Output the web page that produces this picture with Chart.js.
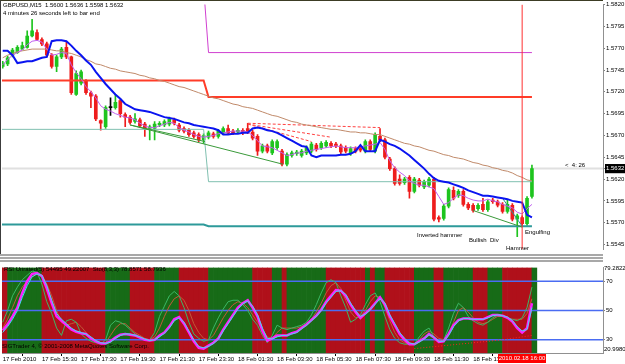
<!DOCTYPE html>
<html>
<head>
<meta charset="utf-8">
<script src="https://cdn.jsdelivr.net/npm/chart.js@4.4.1/dist/chart.umd.min.js"></script>
<style>
  body { margin: 0; width: 625px; height: 364px; overflow: hidden; position: relative; background: #fff;
         font-family: 'Liberation Sans', Arial, sans-serif; }
  canvas { position: absolute; left: 0; }
  #main-chart { top: 0; }
  #rsi-chart  { top: 263px; }
  .txt { position: absolute; font-size: 6px; line-height: 7px; color: #000; white-space: pre; }
  .frame { position: absolute; left: 0; top: 0; width: 602px; height: 253px;
           border-top: 1px solid #3c3c24; border-left: 1px solid #3c3c3c; }
  .split { position: absolute; left: 0; width: 603px; height: 2px; background: #a8a8a8; }
  .timebox { position: absolute; left: 498px; top: 354px; width: 48px; height: 9px; background: #f00;
             color: #fff; font-size: 6px; line-height: 9px; text-align: center; }
</style>
</head>
<body>
<canvas id="main-chart" width="625" height="254"></canvas>
<canvas id="rsi-chart" width="625" height="101"></canvas>
<div class="frame"></div>
<div class="split" style="top:254px"></div>
<div class="split" style="top:257px"></div>
<div class="split" style="top:260px"></div>

<div class="txt" style="left:3px;top:2px">GBPUSD,M15  1.5600 1.5636 1.5598 1.5632</div>
<div class="txt" style="left:3px;top:10px">4 minutes 26 seconds left to bar end</div>
<div class="txt" style="left:565px;top:162px">&lt;  4: 26</div>
<div class="txt" style="left:417px;top:232px">Inverted hammer</div>
<div class="txt" style="left:469px;top:237px">Bullish  Div</div>
<div class="txt" style="left:506px;top:245px">Hammer</div>
<div class="txt" style="left:525px;top:229px">Engulfing</div>
<div class="txt" style="left:4px;top:266px">RSI Unrated(5) 54495 49.22007  Sto(8,3,3) 78.8571 58.7936</div>
<div class="txt" style="left:2px;top:343px">SIGTrader 4, © 2001-2008 MetaQuotes Software Corp.</div>
<div class="txt" style="left:604px;top:265px">79.2822</div>
<div class="txt" style="left:604px;top:346px">20.9980</div>
<div class="timebox">2010.02.18 16:00</div>

<script>
// ---- price data, GBPUSD M15, bar 0 = 17 Feb 13:30 ----
const opens  = [1.5749,1.5752,1.5762,1.5765,1.5769,1.5771,1.5784,1.5788,1.5780,1.5775,
                1.5762,1.5749,1.5760,1.5771,1.5760,1.5717,1.5730,1.5732,1.5719,1.5715,
                1.5687,1.5680,1.5702,1.5702,1.5710,1.5694,1.5691,1.5686,1.5688,1.5683,
                1.5678,1.5678,1.5682,1.5682,1.5683,1.5688,1.5682,1.5678,1.5676,1.5673,
                1.5671,1.5665,1.5668,1.5672,1.5669,1.5673,1.5678,1.5675,1.5674,1.5676,
                1.5678,1.5674,1.5669,1.5652,1.5658,1.5650,1.5656,1.5652,1.5637,1.5647,
                1.5649,1.5647,1.5650,1.5652,1.5659,1.5656,1.5658,1.5661,1.5660,1.5658,
                1.5656,1.5650,1.5655,1.5655,1.5652,1.5663,1.5652,1.5669,1.5665,1.5643,
                1.5632,1.5620,1.5616,1.5622,1.5606,1.5619,1.5611,1.5613,1.5620,1.5576,
                1.5575,1.5589,1.5607,1.5601,1.5606,1.5591,1.5590,1.5586,1.5591,1.5585,
                1.5596,1.5594,1.5591,1.5583,1.5590,1.5574,1.5576,1.5569,1.5600];
const highs  = [1.5755,1.5761,1.5770,1.5773,1.5777,1.5790,1.5803,1.5791,1.5782,1.5777,
                1.5764,1.5762,1.5771,1.5777,1.5761,1.5744,1.5745,1.5734,1.5721,1.5717,
                1.5688,1.5704,1.5713,1.5717,1.5712,1.5696,1.5693,1.5695,1.5690,1.5685,
                1.5682,1.5686,1.5686,1.5688,1.5691,1.5690,1.5684,1.5680,1.5678,1.5675,
                1.5673,1.5672,1.5675,1.5674,1.5677,1.5680,1.5682,1.5677,1.5678,1.5678,
                1.5684,1.5676,1.5671,1.5660,1.5660,1.5665,1.5665,1.5654,1.5650,1.5652,
                1.5653,1.5654,1.5658,1.5662,1.5661,1.5663,1.5664,1.5663,1.5662,1.5660,
                1.5658,1.5657,1.5657,1.5657,1.5665,1.5665,1.5673,1.5678,1.5667,1.5645,
                1.5634,1.5625,1.5622,1.5624,1.5622,1.5621,1.5619,1.5622,1.5622,1.5578,
                1.5591,1.5610,1.5611,1.5608,1.5608,1.5593,1.5592,1.5592,1.5598,1.5596,
                1.5598,1.5596,1.5593,1.5596,1.5592,1.5580,1.5578,1.5600,1.5636];
const lows   = [1.5747,1.5750,1.5760,1.5764,1.5768,1.5770,1.5783,1.5779,1.5773,1.5760,
                1.5747,1.5743,1.5758,1.5758,1.5717,1.5716,1.5728,1.5717,1.5702,1.5687,
                1.5676,1.5678,1.5693,1.5700,1.5691,1.5680,1.5683,1.5684,1.5679,1.5669,
                1.5665,1.5665,1.5680,1.5680,1.5681,1.5682,1.5674,1.5673,1.5669,1.5667,
                1.5663,1.5661,1.5666,1.5667,1.5667,1.5671,1.5671,1.5671,1.5672,1.5671,
                1.5672,1.5665,1.5647,1.5650,1.5650,1.5648,1.5654,1.5635,1.5635,1.5645,
                1.5647,1.5645,1.5648,1.5650,1.5652,1.5654,1.5656,1.5656,1.5656,1.5649,
                1.5650,1.5647,1.5650,1.5651,1.5650,1.5652,1.5650,1.5663,1.5643,1.5630,
                1.5613,1.5613,1.5614,1.5598,1.5604,1.5611,1.5609,1.5611,1.5572,1.5571,
                1.5573,1.5587,1.5596,1.5599,1.5589,1.5585,1.5582,1.5584,1.5583,1.5583,
                1.5592,1.5588,1.5581,1.5581,1.5572,1.5554,1.5567,1.5567,1.5598];
const closes = [1.5753,1.5759,1.5768,1.5771,1.5773,1.5784,1.5790,1.5780,1.5775,1.5762,
                1.5749,1.5760,1.5769,1.5760,1.5719,1.5741,1.5743,1.5719,1.5715,1.5689,
                1.5684,1.5702,1.5702,1.5708,1.5695,1.5691,1.5685,1.5689,1.5681,1.5678,
                1.5680,1.5683,1.5684,1.5686,1.5689,1.5684,1.5676,1.5675,1.5671,1.5669,
                1.5665,1.5670,1.5673,1.5669,1.5675,1.5678,1.5673,1.5673,1.5676,1.5673,
                1.5674,1.5667,1.5652,1.5658,1.5652,1.5663,1.5663,1.5637,1.5648,1.5650,
                1.5651,1.5652,1.5656,1.5660,1.5654,1.5661,1.5662,1.5658,1.5658,1.5651,
                1.5652,1.5655,1.5652,1.5653,1.5663,1.5654,1.5671,1.5665,1.5645,1.5632,
                1.5615,1.5615,1.5620,1.5606,1.5620,1.5613,1.5617,1.5620,1.5574,1.5574,
                1.5589,1.5608,1.5598,1.5606,1.5591,1.5587,1.5584,1.5590,1.5585,1.5594,
                1.5594,1.5590,1.5583,1.5591,1.5574,1.5578,1.5569,1.5598,1.5632];

// ---- indicators on the price window ----
const blueBand = [1.5767,1.5767,1.5762,1.5753,1.5754,1.5755,1.5755,1.5757,1.5759,1.5760,
                  1.5778,1.5779,1.5779,1.5778,1.5773,1.5767,1.5762,1.5756,1.5751,1.5743,
                  1.5736,1.5729,1.5723,1.5717,1.5712,1.5706,1.5703,1.5700,1.5699,1.5698,
                  1.5697,1.5695,1.5693,1.5691,1.5690,1.5689,1.5687,1.5685,1.5684,1.5682,
                  1.5681,1.5680,1.5679,1.5678,1.5676,1.5671,1.5671,1.5672,1.5672,1.5673,
                  1.5673,1.5678,1.5679,1.5678,1.5676,1.5675,1.5673,1.5670,1.5667,1.5664,
                  1.5661,1.5658,1.5657,1.5647,1.5645,1.5647,1.5647,1.5647,1.5647,1.5648,
                  1.5648,1.5649,1.5652,1.5659,1.5652,1.5652,1.5652,1.5665,1.5663,1.5660,
                  1.5658,1.5655,1.5651,1.5647,1.5642,1.5637,1.5632,1.5626,1.5621,1.5618,
                  1.5617,1.5616,1.5614,1.5612,1.5610,1.5607,1.5605,1.5603,1.5601,1.5601,
                  1.5600,1.5599,1.5598,1.5597,1.5595,1.5594,1.5593,1.5579,1.5576];
const fastMa   = [1.5751,1.5757,1.5762,1.5765,1.5768,1.5774,1.5778,1.5779,1.5777,1.5769,
                  1.5762,1.5763,1.5765,1.5764,1.5751,1.5742,1.5735,1.5726,1.5720,1.5713,
                  1.5704,1.5700,1.5698,1.5695,1.5693,1.5691,1.5690,1.5688,1.5684,1.5681,
                  1.5679,1.5679,1.5681,1.5683,1.5685,1.5684,1.5679,1.5676,1.5674,1.5671,
                  1.5669,1.5668,1.5669,1.5670,1.5672,1.5673,1.5674,1.5675,1.5675,1.5675,
                  1.5674,1.5670,1.5664,1.5658,1.5657,1.5656,1.5653,1.5650,1.5647,1.5648,
                  1.5650,1.5650,1.5652,1.5653,1.5654,1.5655,1.5656,1.5657,1.5658,1.5657,
                  1.5656,1.5656,1.5656,1.5657,1.5658,1.5659,1.5660,1.5662,1.5654,1.5641,
                  1.5633,1.5628,1.5624,1.5618,1.5615,1.5613,1.5613,1.5611,1.5609,1.5600,
                  1.5591,1.5593,1.5598,1.5602,1.5601,1.5598,1.5596,1.5595,1.5595,1.5597,
                  1.5595,1.5594,1.5591,1.5589,1.5587,1.5582,1.5580,1.5586,1.5591];
const slowMa   = [1.5759,1.5762,1.5764,1.5766,1.5767,1.5768,1.5769,1.5769,1.5769,1.5769,
                  1.5768,1.5767,1.5767,1.5765,1.5764,1.5762,1.5760,1.5757,1.5755,1.5752,
                  1.5751,1.5749,1.5747,1.5746,1.5744,1.5743,1.5742,1.5741,1.5739,1.5738,
                  1.5736,1.5735,1.5733,1.5732,1.5730,1.5728,1.5726,1.5725,1.5723,1.5721,
                  1.5719,1.5717,1.5715,1.5713,1.5712,1.5710,1.5708,1.5706,1.5705,1.5703,
                  1.5702,1.5701,1.5699,1.5697,1.5695,1.5693,1.5692,1.5690,1.5688,1.5686,
                  1.5685,1.5683,1.5682,1.5681,1.5680,1.5679,1.5678,1.5677,1.5677,1.5676,
                  1.5675,1.5674,1.5674,1.5673,1.5673,1.5672,1.5671,1.5671,1.5669,1.5667,
                  1.5665,1.5663,1.5661,1.5660,1.5658,1.5657,1.5655,1.5653,1.5652,1.5650,
                  1.5648,1.5647,1.5645,1.5644,1.5643,1.5641,1.5639,1.5638,1.5636,1.5635,
                  1.5633,1.5632,1.5630,1.5629,1.5627,1.5624,1.5622,1.5619,1.5618];

// daily levels: step at the day change (bar 41 -> 42)
const levelIdx      = [-1, 41, 42, 108];
const redLevel      = [1.5733, 1.5733, 1.5714, 1.5714];
const magentaLevel  = [1.5840, 1.5840, 1.5765, 1.5765];
const tealLevel     = [1.5677, 1.5677, 1.5617, 1.5617];
const darkTealLevel = [1.5568, 1.5568, 1.5566, 1.5566];
const bidPrice = 1.5632;
const markerIdx = 106;   // vertical line, 18 Feb 16:00

// hand drawn lines
const greenLineA = { x: [26, 41.3], y: [1.5682, 1.5663] };
const greenLineB = { x: [26, 57.2], y: [1.5682, 1.5637] };
const greenLineC = { x: [96, 106],  y: [1.5584, 1.5565] };
const tealDiag   = { x: [102, 106], y: [1.5598, 1.5566] };
const redDashA   = { x: [50, 77],   y: [1.5684, 1.5679] };
const redDashB   = { x: [50, 67],   y: [1.5683, 1.5668] };
const redDashC   = { x: [50, 63],   y: [1.5683, 1.5663] };

// ---- RSI window ----
const rsiMain = [36.5,40.5,46,52,62,70,75,75.5,73.5,65,
                 55,46,43,40,37,35.5,34.5,34,31,29,
                 27.5,27.5,29,31.5,33.5,34,33.5,33,31.5,30,
                 29.5,30,33,35,39,44,45.5,41,35,29,
                 24.5,24,26,28,31,37,42,47,52,55,
                 57,52,46,36,29.5,31,33,33,33,34.5,
                 35.5,38,40.5,43.5,46.5,50.5,56,60,64,63.5,
                 60,54,49,45,48,51,55,59,54,46,
                 40,34,30,27,27,29,31,34,31.5,28.5,
                 29,34,40,43.5,44.5,44.5,44,44,44,45.5,
                 47,47,46.5,45,42.5,38,35,38,55];
const rsiSignal = [35,39,44,50,59,67,73,75,74,67,
                   57,48,44,41,38,36,35,34,32,29.5,
                   28,27.5,28.5,31,33,34,34,33,32,30.5,
                   29.5,30,32,34.5,38,43,45,42,36,30,
                   25.5,24.5,25.5,27.5,30.5,36,41,46,51,54.5,
                   56.5,53,47,38,31,30.5,32,33,33,34,
                   35,37.5,40,43,46,50,55,59,63,63.5,
                   61,55,50,46,47.5,50.5,54.5,58,55,47,
                   41,35,31,28,27,28.5,30.5,33.5,32,29,
                   29,33,39,43,44.5,44.5,44,44,44,45,
                   46.5,47,46.5,45.5,43,39,36,37,52];
const stochK = [42,50,60,66,71,74,77,76,68,56,
                48,38,33,43,44,42,34,31,29,28,
                27,30,40,43,42,40,37,34,32,30,
                30,35,46,53,60,63,60,52,42,34,
                31,29,30,38,45,51,56,57,57,54,
                50,44,40,33,28,33,40,38,37,38,
                39,40,42,47,54,62,69,71,69,60,
                52,42,44,47,54,60,62,56,46,37,
                31,28,27,27,27,32,36,38,32,29,
                30,38,48,55,52,46,43,41,40,42,
                45,47,46,45,44,43,45,52,66];
const stochD = [38,44,52,60,66,70,73,75,74,68,
                60,50,42,40,41,42,39,35,31,29,
                28,28,33,38,41,41,38,35,33,31,
                30,32,38,46,53,58,60,57,50,41,
                35,31,30,33,39,45,50,54,56,55,
                52,47,42,37,32,31,35,38,38,38,
                38,39,41,44,49,55,62,67,69,65,
                57,49,45,46,50,56,60,59,52,43,
                35,30,28,27,27,30,34,36,34,31,
                30,34,42,50,52,49,45,42,41,42,
                44,46,46,45,44,44,44,48,58];
const rsiSlowIdx = [84, 90, 96, 102, 108];
const rsiSlowVal = [24, 26, 28, 30, 33];
const rsiLevels = [70, 50, 30];
const rsiMin = 20.9980, rsiMax = 79.2822;
// background zones, runs of bars starting at bar -1
const zoneRuns = [['r',2],['g',7],['r',13],['g',5],['r',5],['g',5],['r',6],['g',9],['r',4],['g',2],
                  ['r',1],['g',8],['r',8],['g',1],['r',1],['g',2],['r',6],['g',4],['r',2],['g',6],
                  ['r',3],['g',3],['r',6],['g',1]];

// ---- axis labels ----
const priceTicks = [1.5820,1.5795,1.5770,1.5745,1.5720,1.5695,1.5670,1.5645,1.5620,1.5595,1.5570,1.5545];
const timeTickIdx = [0,8,16,24,32,40,48,56,64,72,80,88,96];
const timeLabels = ['17 Feb 2010','17 Feb 15:30','17 Feb 17:30','17 Feb 19:30','17 Feb 21:30',
                    '17 Feb 23:30','18 Feb 01:30','18 Feb 03:30','18 Feb 05:30','18 Feb 07:30',
                    '18 Feb 09:30','18 Feb 11:30','18 Feb 13:30'];

const BULL = '#1ec41e', BEAR = '#ee1c1c';
const FONT = { family: 'Liberation Sans', size: 6 };
const X_MIN = -0.143, X_MAX = 122.5;
const priceMin = 1.55394, priceMax = 1.5820;

const idx = closes.map((_, i) => i);
const pts = (xs, ys) => xs.map((x, i) => ({ x, y: ys[i] }));
const candleColor = idx.map(i => closes[i] > opens[i] ? BULL : closes[i] < opens[i] ? BEAR : '#000');

function line(data, color, width, extra) {
    return Object.assign({
        type: 'line', data, borderColor: color, borderWidth: width,
        pointRadius: 0, tension: 0, fill: false
    }, extra || {});
}

const base = {
    responsive: false,
    animation: false,
    events: [],
    plugins: { legend: { display: false }, tooltip: { enabled: false } },
};

new Chart(document.getElementById('main-chart').getContext('2d'), {
    type: 'line',
    data: {
        datasets: [
            line(pts([markerIdx, markerIdx], [priceMin, priceMax]), '#ff3030', 1, { order: 0 }),
            line(pts(idx, blueBand), '#0a14f0', 2, { order: 1 }),
            line(pts(idx, fastMa), '#c060f0', 1, { order: 2 }),
            line(pts(idx, slowMa), '#c08a6a', 1, { order: 3 }),
            line(pts(greenLineA.x, greenLineA.y), '#3a9a3a', 1, { order: 5 }),
            line(pts(greenLineB.x, greenLineB.y), '#3a9a3a', 1, { order: 5 }),
            line(pts(greenLineC.x, greenLineC.y), '#3a9a3a', 1, { order: 5 }),
            line(pts(tealDiag.x, tealDiag.y), '#2e9090', 1, { order: 5 }),
            line(pts(redDashA.x, redDashA.y), '#ff4040', 1, { order: 5, borderDash: [3, 2] }),
            line(pts(redDashB.x, redDashB.y), '#ff4040', 1, { order: 5, borderDash: [3, 2] }),
            line(pts(redDashC.x, redDashC.y), '#ff4040', 1, { order: 5, borderDash: [3, 2] }),
            line(pts(levelIdx, redLevel), '#ff3c28', 2, { order: 6 }),
            line(pts(levelIdx, magentaLevel), '#d040d0', 1, { order: 6 }),
            line(pts(levelIdx, tealLevel), '#80c0b0', 1, { order: 6 }),
            line(pts(levelIdx, darkTealLevel), '#2e9a9a', 2, { order: 6 }),
            {
                type: 'bar', order: 10, grouped: false, barThickness: 3, minBarLength: 1,
                data: idx.map(i => ({ x: i, y: [opens[i], closes[i]] })),
                backgroundColor: candleColor,
            },
            {
                type: 'bar', order: 11, grouped: false, barThickness: 1,
                data: idx.map(i => ({ x: i, y: [lows[i], highs[i]] })),
                backgroundColor: candleColor,
            },
            line(pts([X_MIN, X_MAX], [bidPrice, bidPrice]), '#e0e0e0', 2, { order: 12 }),
        ],
    },
    options: Object.assign({}, base, {
        layout: { padding: { top: 1, bottom: 1, left: 2, right: 0 } },
        scales: {
            x: { type: 'linear', min: X_MIN, max: X_MAX, display: false, offset: false },
            y: {
                type: 'linear', position: 'right', min: priceMin, max: priceMax, beginAtZero: false,
                afterFit: s => { s.width = 22; },
                afterBuildTicks: s => {
                    s.ticks = priceTicks.concat([bidPrice]).map(v => ({ value: v }));
                },
                grid: { drawOnChartArea: false, tickLength: 2, color: '#808080' },
                border: { color: '#909090' },
                ticks: {
                    autoSkip: false, padding: 1, font: FONT,
                    color: c => c.tick && c.tick.value === bidPrice ? '#fff' : '#000',
                    showLabelBackdrop: c => !!(c.tick && c.tick.value === bidPrice),
                    backdropColor: '#000',
                    backdropPadding: { x: 1, y: 1 },
                    callback: v => v.toFixed(4),
                },
            },
        },
    }),
});

// zone bars for the RSI background
const zoneData = [], zoneColors = [];
let k = -1;
zoneRuns.forEach(([c, n]) => {
    for (let j = 0; j < n; j++, k++) {
        zoneData.push({ x: k + 0.5, y: [rsiMin, rsiMax] });
        zoneColors.push(c === 'r' ? '#b0101a' : '#176b17');
    }
});

new Chart(document.getElementById('rsi-chart').getContext('2d'), {
    type: 'line',
    data: {
        datasets: [
            line(pts(idx, rsiSignal), '#40e0f0', 1, { order: 0 }),
            line(pts(idx, rsiMain), '#ff20ff', 2.5, { order: 1 }),
            line(pts(idx, stochK), '#3cb866', 1, { order: 2 }),
            line(pts(idx, stochD), '#c05a3a', 1, { order: 3 }),
            line(pts(rsiSlowIdx, rsiSlowVal), '#ff2020', 1, { order: 4, borderDash: [1, 2] }),
        ].concat(rsiLevels.map(v =>
            line(pts([X_MIN, X_MAX], [v, v]), '#4a6cf2', 1.5, { order: 5 })
        )).concat([{
            type: 'bar', order: 10, grouped: false,
            barPercentage: 1, categoryPercentage: 1,
            data: zoneData, backgroundColor: zoneColors,
        }]),
    },
    options: Object.assign({}, base, {
        layout: { padding: { top: 1, bottom: 0, left: 2, right: 0 } },
        scales: {
            x: {
                type: 'linear', min: X_MIN, max: X_MAX, offset: false,
                afterFit: s => { s.height = 11; },
                afterBuildTicks: s => { s.ticks = timeTickIdx.map(v => ({ value: v })); },
                grid: { drawOnChartArea: false, tickLength: 3, color: '#000' },
                border: { color: '#909090' },
                ticks: {
                    autoSkip: false, maxRotation: 0, align: 'start', padding: 0, font: FONT, color: '#000',
                    callback: v => timeLabels[timeTickIdx.indexOf(v)],
                },
            },
            y: {
                type: 'linear', position: 'right', min: rsiMin, max: rsiMax,
                afterFit: s => { s.width = 22; },
                afterBuildTicks: s => { s.ticks = rsiLevels.map(v => ({ value: v })); },
                grid: { drawOnChartArea: false, tickLength: 2, color: '#808080' },
                border: { color: '#909090' },
                ticks: { autoSkip: false, padding: 1, font: FONT, color: '#000', callback: v => String(v) },
            },
        },
    }),
});
</script>
</body>
</html>
